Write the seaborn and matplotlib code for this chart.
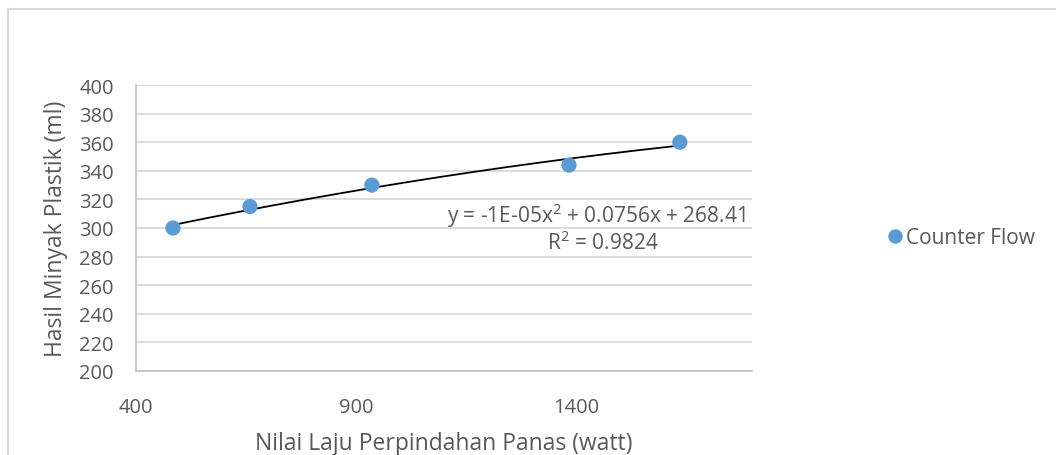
import numpy as np
import pandas as pd
import seaborn as sns
import matplotlib.pyplot as plt
from matplotlib.lines import Line2D

# data
heat_rate = [484, 659, 936, 1384, 1636]      # Nilai Laju Perpindahan Panas (watt)
oil_yield = [300, 315, 330, 344, 360]        # Hasil Minyak Plastik (ml)
series_name = "Counter Flow"
x_ticks = [400, 900, 1400]
y_ticks = [200, 220, 240, 260, 280, 300, 320, 340, 360, 380, 400]
trend_eq = "y = -1E-05x$^2$ + 0.0756x + 268.41"
trend_r2 = "R$^2$ = 0.9824"

df = pd.DataFrame({"x": heat_rate, "y": oil_yield, "series": series_name})

sns.set_theme(style="white")
plt.rcParams["font.family"] = ["Open Sans", "DejaVu Sans"]
plt.rcParams["mathtext.default"] = "regular"
TXT = "#595959"
GRID = "#d9d9d9"

fig = plt.figure(figsize=(10.56, 4.56), dpi=100)
ax = fig.add_axes([136 / 1056, 1 - 372 / 456, (752 - 136) / 1056, (372 - 86) / 456])

# polynomial trendline (order 2) fitted on the data
coef = np.polyfit(heat_rate, oil_yield, 2)
xs = np.linspace(min(heat_rate), max(heat_rate), 200)
ax.plot(xs, np.polyval(coef, xs), color="black", lw=1.3, zorder=2)

sns.scatterplot(data=df, x="x", y="y", hue="series", palette=["#5b9bd5"],
                s=120, edgecolor="none", ax=ax, zorder=3)

ax.set_xlim(400, 1800)
ax.set_ylim(200, 400)
ax.set_xticks(x_ticks)
ax.set_yticks(y_ticks)
ax.grid(axis="y", color=GRID, lw=1.3)
ax.grid(axis="x", visible=False)
for side in ["top", "right"]:
    ax.spines[side].set_visible(False)
for side in ["left", "bottom"]:
    ax.spines[side].set_color("#bfbfbf")
    ax.spines[side].set_linewidth(1.2)
ax.tick_params(axis="both", colors="#bfbfbf", labelcolor=TXT, labelsize=14.5,
               length=6, width=1.2, direction="out")
ax.tick_params(axis="x", pad=13)
ax.tick_params(axis="y", pad=10)

ax.set_xlabel("Nilai Laju Perpindahan Panas (watt)", fontsize=16.5, color=TXT, labelpad=10)
ax.set_ylabel("Hasil Minyak Plastik (ml)", fontsize=16.5, color=TXT, labelpad=8)

ax.text(1785, 309, trend_eq, ha="right", va="center", fontsize=15, color=TXT)
ax.text(1461, 290, trend_r2, ha="center", va="center", fontsize=15, color=TXT)

leg = ax.legend(loc="center left", bbox_to_anchor=(1.188, 0.466), frameon=False,
                fontsize=15, handlelength=0.8, handletextpad=0.15, markerscale=0.95)
for t in leg.get_texts():
    t.set_color(TXT)

# chart area border (top and left edges visible)
fig.add_artist(Line2D([8 / 1056, 1], [1 - 10 / 456, 1 - 10 / 456], color="#d9d9d9", lw=1.5))
fig.add_artist(Line2D([8 / 1056, 8 / 1056], [0, 1 - 10 / 456], color="#d9d9d9", lw=1.5))

fig.savefig("out.png", dpi=100)
